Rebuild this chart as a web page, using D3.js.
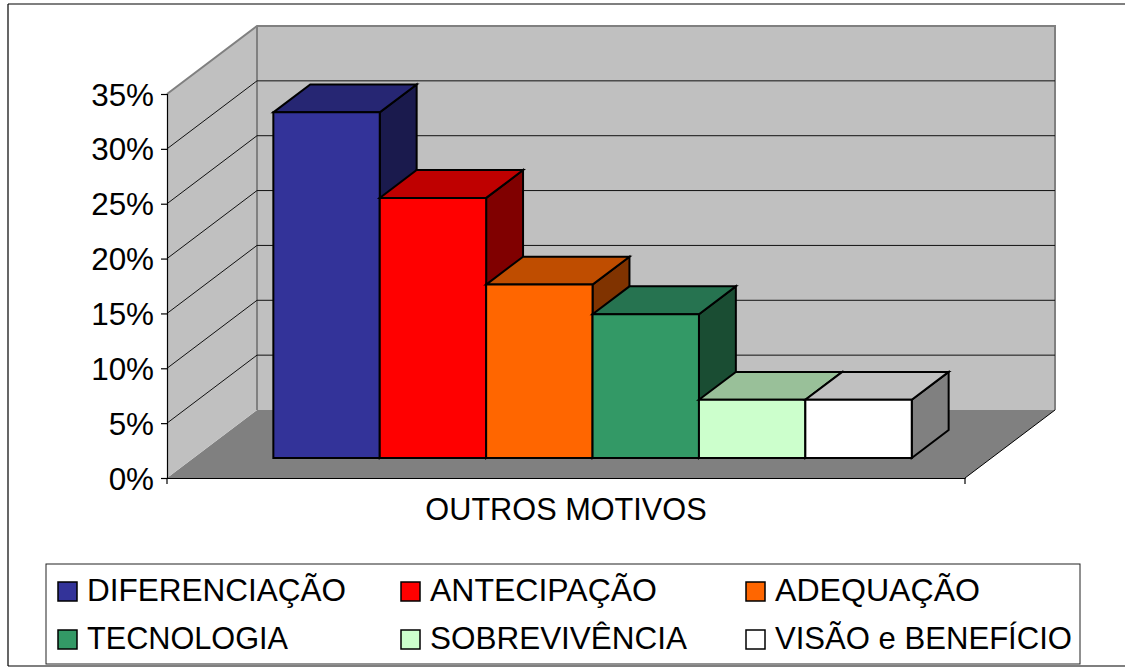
<!DOCTYPE html>
<html>
<head>
<meta charset="utf-8">
<script src="https://cdnjs.cloudflare.com/ajax/libs/d3/7.8.5/d3.min.js"></script>
<style>
html,body{margin:0;padding:0;background:#fff;}
svg{display:block;}
text{font-family:"Liberation Sans",Arial,sans-serif;fill:#000;}
</style>
</head>
<body>
<svg id="chart" width="1125" height="670"></svg>
<script>
const categoryLabel = "OUTROS MOTIVOS";
const seriesNames = ["DIFERENCIAÇÃO","ANTECIPAÇÃO","ADEQUAÇÃO","TECNOLOGIA","SOBREVIVÊNCIA","VISÃO e BENEFÍCIO"];
const seriesValues = [31.5,23.7,15.8,13.1,5.3,5.3];
const frontColors = ["#333399","#ff0000","#ff6600","#339966","#ccffcc","#ffffff"];
const topColors   = ["#262673","#bf0000","#bf4d00","#267350","#99c099","#c0c0c0"];
const sideColors  = ["#1a1a4d","#800000","#803300","#1a4d33","#668066","#808080"];
const yTicks = [0,5,10,15,20,25,30,35];
const legendTextWidths = [259,227,205,201,257,297];

const svg = d3.select("#chart");

// Front plane of the 3D box, and the depth vector running back to the wall
const y = d3.scaleLinear().domain([0,35]).range([478,94]);
const x = d3.scaleBand().domain(seriesNames).range([167,965]).paddingInner(0).paddingOuter(0.75);
const depthX = d3.scaleLinear().domain([0,1]).range([0,90]);
const depthY = d3.scaleLinear().domain([0,1]).range([0,-68]);
const pt = (px,v,d) => [px + depthX(d), y(v) + depthY(d)];
const poly = pts => pts.map(p => p.join(",")).join(" ");

// Outer frame
const frame = svg.append("g").attr("fill","none");
frame.append("line").attr("x1",8).attr("x2",1125).attr("y1",4).attr("y2",4).attr("stroke","#000").attr("stroke-width",1.2);
frame.append("line").attr("x1",8).attr("x2",8).attr("y1",4).attr("y2",666).attr("stroke","#000").attr("stroke-width",1.2);
frame.append("line").attr("x1",8).attr("x2",1125).attr("y1",666).attr("y2",666).attr("stroke","#000").attr("stroke-width",1.2);

const [x0,x1] = x.range();
const wallGray = "#c0c0c0", edgeGray = "#808080";

// Floor, side wall and back wall
svg.append("polygon").attr("points",poly([pt(x0,0,0),pt(x1,0,0),pt(x1,0,1),pt(x0,0,1)])).attr("fill","#808080");
svg.append("polygon").attr("points",poly([pt(x0,0,0),pt(x0,0,1),pt(x0,35,1),pt(x0,35,0)])).attr("fill",wallGray);
svg.append("polygon").attr("points",poly([pt(x0,0,1),pt(x1,0,1),pt(x1,35,1),pt(x0,35,1)])).attr("fill",wallGray);

// Wall outlines
const edges = svg.append("g").attr("stroke",edgeGray).attr("fill","none").attr("stroke-width",2);
edges.append("polyline").attr("points",poly([pt(x0,35,0),pt(x0,35,1),pt(x1,35,1),pt(x1,0,1)]));
edges.append("line").attr("x1",pt(x0,0,1)[0]).attr("y1",pt(x0,0,1)[1]).attr("x2",pt(x0,35,1)[0]).attr("y2",pt(x0,35,1)[1]);

// Gridlines across both walls
const grid = svg.append("g").attr("stroke","#111").attr("stroke-width",1).attr("fill","none");
yTicks.filter(t => t>0 && t<35).forEach(t => {
  grid.append("polyline").attr("points",poly([pt(x0,t,0),pt(x0,t,1),pt(x1,t,1)]));
});

// Right-hand floor edge
svg.append("line").attr("x1",pt(x1,0,0)[0]).attr("y1",pt(x1,0,0)[1]).attr("x2",pt(x1,0,1)[0]).attr("y2",pt(x1,0,1)[1]).attr("stroke","#000").attr("stroke-width",1);

// Axes
const yAxis = d3.axisLeft(y).tickValues(yTicks).tickSize(6).tickPadding(7).tickFormat(d => d+"%");
const yG = svg.append("g").attr("transform",`translate(${x0},0)`).call(yAxis);
yG.select(".domain").attr("stroke","#000").attr("stroke-width",1.2);
yG.selectAll("line").attr("stroke","#000").attr("stroke-width",1.2);
yG.selectAll("text").attr("font-size",31.4).attr("font-family",'"Liberation Sans",Arial,sans-serif').attr("fill","#000").attr("transform","translate(0,1)");

const catScale = d3.scaleBand().domain([categoryLabel]).range([x0,x1]);
const xAxis = d3.axisBottom(catScale).tickSize(0).tickPadding(20);
const xG = svg.append("g").attr("transform",`translate(0,${y(0)})`).call(xAxis);
xG.select(".domain").attr("stroke","#000").attr("stroke-width",1.2);
xG.selectAll("text").attr("font-size",30.7).attr("font-family",'"Liberation Sans",Arial,sans-serif').attr("fill","#000");
[x0,x1].forEach(p => svg.append("line").attr("x1",p).attr("x2",p).attr("y1",y(0)).attr("y2",y(0)+6).attr("stroke","#000").attr("stroke-width",1.2));

// Bars: each one is a box sitting in the middle of the floor's depth
const dNear = 0.295, dFar = 0.705;
const bars = svg.append("g").attr("stroke","#000").attr("stroke-width",2).attr("stroke-linejoin","miter");
seriesNames.forEach((name,i) => {
  const v = seriesValues[i], l = x(name), r = l + x.bandwidth();
  bars.append("polygon").attr("fill",sideColors[i]).attr("points",poly([pt(r,0,dNear),pt(r,0,dFar),pt(r,v,dFar),pt(r,v,dNear)]));
  bars.append("polygon").attr("fill",topColors[i]).attr("points",poly([pt(l,v,dNear),pt(r,v,dNear),pt(r,v,dFar),pt(l,v,dFar)]));
  bars.append("polygon").attr("fill",frontColors[i]).attr("points",poly([pt(l,0,dNear),pt(r,0,dNear),pt(r,v,dNear),pt(l,v,dNear)]));
});

// Legend
const legend = svg.append("g");
legend.append("rect").attr("x",46).attr("y",564).attr("width",1034).attr("height",100).attr("fill","#fff").attr("stroke","#222").attr("stroke-width",1);
const colX = d3.scaleOrdinal().domain([0,1,2]).range([58,401,746]);
const rowY = d3.scaleOrdinal().domain([0,1]).range([591,639]);
seriesNames.forEach((name,i) => {
  const c = i%3, rw = Math.floor(i/3);
  legend.append("rect").attr("x",colX(c)).attr("y",rowY(rw)-9).attr("width",19).attr("height",19).attr("fill",frontColors[i]).attr("stroke","#000").attr("stroke-width",1.5);
  legend.append("text").attr("x",colX(c)+29).attr("y",rowY(rw)+10).attr("font-size",31.6)
    .attr("textLength",legendTextWidths[i]).attr("lengthAdjust","spacingAndGlyphs").text(name);
});
</script>
</body>
</html>
